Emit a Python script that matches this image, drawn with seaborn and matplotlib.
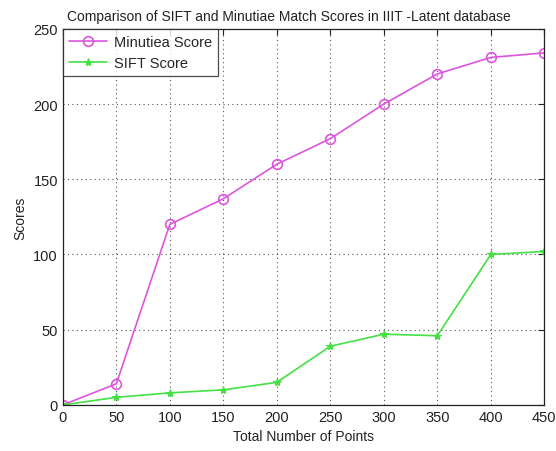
import numpy as np
import pandas as pd
import matplotlib.pyplot as plt
import seaborn as sns

points = [0, 50, 100, 150, 200, 250, 300, 350, 400, 450]
minutiae_scores = [0, 14, 120, 137, 160, 177, 200, 220, 231, 234]
sift_scores = [0, 5, 8, 10, 15, 39, 47, 46, 100, 102]

sns.set_style("white")
plt.rcParams["font.family"] = ["Liberation Sans", "DejaVu Sans"]

fig = plt.figure(figsize=(5.56, 4.52), dpi=100)
ax = fig.add_axes([0.113, 0.102, 0.866, 0.832])

sns.lineplot(x=points, y=minutiae_scores, ax=ax, color="#dd55dd", lw=1.2,
             marker="o", markersize=7, markerfacecolor="none",
             markeredgecolor="#dd55dd", markeredgewidth=1.2, label="Minutiea Score")
sns.lineplot(x=points, y=sift_scores, ax=ax, color="#44e044", lw=1.2,
             marker="*", markersize=6, markeredgecolor="#44e044", label="SIFT Score")

ax.set_xlim(0, 450)
ax.set_ylim(0, 250)
ax.set_xticks(np.arange(0, 451, 50))
ax.set_yticks(np.arange(0, 251, 50))
ax.grid(True, linestyle=(0, (1, 3)), color="#555555", lw=0.8)
ax.tick_params(direction="in", length=4, top=True, right=True, labelsize=10.5, colors="#222222")
for s in ax.spines.values():
    s.set_color("#222222")
    s.set_linewidth(0.9)

ax.set_title("Comparison of SIFT and Minutiae Match Scores in IIIT -Latent database",
             fontsize=10, pad=6, color="#222222", x=0.47)
ax.set_xlabel("Total Number of Points", fontsize=10, color="#222222")
ax.set_ylabel("Scores", fontsize=10, color="#222222")

leg = ax.legend(loc="upper left", fontsize=10.5, frameon=True, fancybox=False,
                borderaxespad=0.0, handlelength=2.6, handletextpad=0.5, borderpad=0.4)
leg.get_frame().set_edgecolor("#222222")
leg.get_frame().set_linewidth(0.9)

fig.savefig("out.png", dpi=100)
